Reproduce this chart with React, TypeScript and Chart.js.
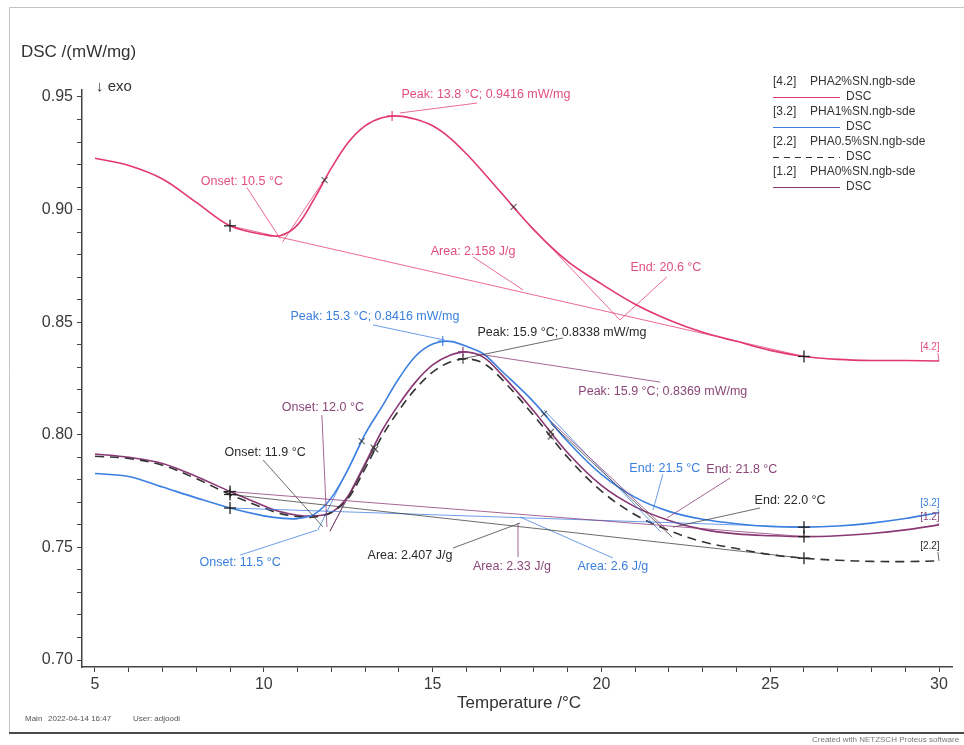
import React, { useEffect, useRef } from "react";
import { Chart, registerables } from "chart.js";

Chart.register(...registerables);

const FONT = '"Liberation Sans", Arial, Helvetica, sans-serif';

// ---------------- data ----------------
const TEMPERATURE = [
  5, 6, 7, 8, 9, 10, 10.5, 11, 11.5, 12, 12.5, 13, 13.5, 14, 14.5, 15, 15.5, 16, 16.5, 17,
  18, 19, 20, 21, 22, 23, 24, 25, 26, 27, 28, 29, 30,
];
// [4.2] PHA2%SN
const DSC_PHA2 = [
  0.9228, 0.9196, 0.9136, 0.9032, 0.8928, 0.8889, 0.8885, 0.8932, 0.905, 0.9184, 0.9298, 0.9372,
  0.9408, 0.9415, 0.9401, 0.9372, 0.932, 0.9248, 0.9166, 0.908, 0.891, 0.877, 0.867, 0.858,
  0.851, 0.8455, 0.8415, 0.8375, 0.8348, 0.8335, 0.833, 0.833, 0.8328,
];
// [3.2] PHA1%SN
const DSC_PHA1 = [
  0.7828, 0.7815, 0.7768, 0.772, 0.7675, 0.764, 0.763, 0.7628, 0.7648, 0.772, 0.7848, 0.8003,
  0.8125, 0.825, 0.835, 0.8403, 0.8415, 0.8393, 0.836, 0.829, 0.8145, 0.797, 0.7824, 0.7722,
  0.766, 0.7625, 0.7605, 0.7593, 0.759, 0.7595, 0.7608, 0.7628, 0.7655,
];
// [2.2] PHA0.5%SN
const DSC_PHA05 = [
  0.7905, 0.7895, 0.7865, 0.7805, 0.7735, 0.7675, 0.765, 0.7637, 0.7635, 0.7655, 0.7718, 0.785,
  0.7993, 0.8108, 0.8205, 0.8278, 0.8322, 0.8337, 0.8318, 0.8255, 0.8085, 0.79, 0.775, 0.7645,
  0.7575, 0.7525, 0.7495, 0.7468, 0.7452, 0.7443, 0.7438, 0.7437, 0.744,
];
// [1.2] PHA0%SN
const DSC_PHA0 = [
  0.7915, 0.79, 0.7873, 0.7815, 0.7748, 0.7685, 0.7658, 0.7643, 0.764, 0.7655, 0.7728, 0.7868,
  0.8018, 0.8135, 0.8235, 0.831, 0.8352, 0.8368, 0.8345, 0.8275, 0.8105, 0.792, 0.7775, 0.768,
  0.762, 0.758, 0.756, 0.7552, 0.7548, 0.7552, 0.7562, 0.7578, 0.76,
];

const SERIES_VALUES = [DSC_PHA2, DSC_PHA1, DSC_PHA05, DSC_PHA0];
const SERIES_TAGS = ["[4.2]", "[3.2]", "[2.2]", "[1.2]"];
const SERIES_FILES = ["PHA2%SN.ngb-sde", "PHA1%SN.ngb-sde", "PHA0.5%SN.ngb-sde", "PHA0%SN.ngb-sde"];
const SIGNAL_NAME = "DSC";

const PEAK_TEMP = [13.8, 15.3, 15.9, 15.9];
const PEAK_VALUE = [0.9416, 0.8416, 0.8338, 0.8369];
const ONSET_TEMP = [10.5, 11.5, 11.9, 12.0];
const END_TEMP = [20.6, 21.5, 22.0, 21.8];
const AREA_JG = [2.158, 2.6, 2.407, 2.33];
const BASELINE_TEMPS = [9, 26];

const X_MAJOR_TICKS = [5, 10, 15, 20, 25, 30];
const Y_MAJOR_TICKS = [0.7, 0.75, 0.8, 0.85, 0.9, 0.95];

const Y_TITLE = "DSC /(mW/mg)";
const EXO_TEXT = "\u2193 exo";
const X_TITLE = "Temperature /\u00B0C";
const FOOTER_LEFT = ["Main", "2022-04-14 16:47", "User: adjoodi"];
const FOOTER_RIGHT = "Created with NETZSCH Proteus software";

// ---------------- styles & annotation layout (data space anchors) ----------------
const STYLES = [
  { color: "#e2386d", text: "#e0507d", guide: "rgba(226,60,110,0.85)", dash: [] as number[] },
  { color: "#3b7fe0", text: "#3a7fdc", guide: "rgba(59,127,224,0.85)", dash: [] as number[] },
  { color: "#333333", text: "#2a2a2a", guide: "rgba(50,50,50,0.8)", dash: [9, 6] },
  { color: "#8a3775", text: "#8a4678", guide: "rgba(138,55,117,0.85)", dash: [] as number[] },
];

type Seg = [number, number, number, number];
const LAYOUT: {
  peak: [number, number];
  onset: [number, number];
  end: [number, number];
  area: [number, number];
  tag: [number, number];
  inflections: number[];
  guides: Seg[];
}[] = [
  {
    peak: [16.58, 0.9509],
    onset: [9.35, 0.9123],
    end: [21.91, 0.8741],
    area: [16.2, 0.8812],
    tag: [29.73, 0.839],
    inflections: [11.8, 17.4],
    guides: [
      [10.55, 0.8855, 11.85, 0.9145],
      [9.5, 0.9098, 10.48, 0.8872],
      [14.03, 0.9429, 16.32, 0.9473],
      [16.2, 0.879, 17.68, 0.8643],
      [17.4, 0.9007, 20.55, 0.851],
      [21.94, 0.8701, 20.55, 0.851],
    ],
  },
  {
    peak: [13.29, 0.8523],
    onset: [9.3, 0.7435],
    end: [21.88, 0.7848],
    area: [20.34, 0.7413],
    tag: [29.73, 0.7697],
    inflections: [12.9, 18.3],
    guides: [
      [11.6, 0.7577, 12.9, 0.797],
      [9.3, 0.7466, 11.58, 0.7577],
      [13.23, 0.8488, 15.37, 0.842],
      [18.3, 0.811, 21.75, 0.757],
      [21.82, 0.7825, 21.53, 0.7666],
      [20.34, 0.7453, 17.59, 0.7635],
    ],
  },
  {
    peak: [18.83, 0.8452],
    onset: [10.04, 0.7919],
    end: [25.59, 0.771],
    area: [14.33, 0.7466],
    tag: [29.73, 0.7506],
    inflections: [13.3, 18.5],
    guides: [
      [11.96, 0.7572, 13.3, 0.795],
      [9.98, 0.7888, 11.75, 0.7591],
      [15.9, 0.8338, 18.86, 0.843],
      [18.5, 0.805, 22.1, 0.7545],
      [24.7, 0.7675, 22.12, 0.759],
      [15.6, 0.7497, 17.59, 0.7608],
    ],
  },
  {
    peak: [21.82, 0.8194],
    onset: [11.75, 0.8123],
    end: [24.16, 0.7844],
    area: [17.35, 0.7413],
    tag: [29.73, 0.7635],
    inflections: [13.25, 18.5],
    guides: [
      [11.96, 0.7572, 13.24, 0.7947],
      [11.72, 0.8088, 11.87, 0.759],
      [15.9, 0.8369, 21.74, 0.8234],
      [18.5, 0.806, 21.95, 0.7577],
      [23.81, 0.7808, 21.94, 0.763],
      [17.53, 0.7457, 17.53, 0.7608],
    ],
  },
];

const X_MIN = 4.615;
const X_MAX = 30.385;
const Y_MIN = 0.6969;
const Y_MAX = 0.9531;

function valueAt(vals: number[], t: number) {
  for (let i = 0; i < TEMPERATURE.length - 1; i++) {
    const a = TEMPERATURE[i];
    const b = TEMPERATURE[i + 1];
    if (t >= a && t <= b) return vals[i] + ((vals[i + 1] - vals[i]) * (t - a)) / (b - a);
  }
  return vals[vals.length - 1];
}

function minorTicks(majors: number[], step: number) {
  const out: number[] = [];
  const lo = majors[0];
  const hi = majors[majors.length - 1];
  const n = Math.round((hi - lo) / step);
  for (let i = 0; i <= n; i++) out.push(Math.round((lo + i * step) * 1000) / 1000);
  return out;
}

const overlayPlugin = {
  id: "dscOverlay",
  beforeDraw(chart: any) {
    const { ctx, width, height } = chart;
    ctx.save();
    ctx.fillStyle = "#ffffff";
    ctx.fillRect(0, 0, width, height);
    ctx.restore();
  },
  afterDatasetsDraw(chart: any) {
    const { ctx } = chart;
    const xs = chart.scales.x;
    const ys = chart.scales.y;
    const px = (v: number) => xs.getPixelForValue(v);
    const py = (v: number) => ys.getPixelForValue(v);
    const line = (x1: number, y1: number, x2: number, y2: number) => {
      ctx.beginPath();
      ctx.moveTo(x1, y1);
      ctx.lineTo(x2, y2);
      ctx.stroke();
    };
    const plus = (x: number, y: number, r: number) => {
      line(x - r, y, x + r, y);
      line(x, y - r, x, y + r);
    };
    const xmark = (x: number, y: number, r: number) => {
      line(x - r, y - r, x + r, y + r);
      line(x - r, y + r, x + r, y - r);
    };
    ctx.save();
    SERIES_VALUES.forEach((vals, i) => {
      const st = STYLES[i];
      const lay = LAYOUT[i];
      ctx.setLineDash([]);
      ctx.strokeStyle = st.guide;
      ctx.lineWidth = 0.9;
      const b0 = BASELINE_TEMPS[0];
      const b1 = BASELINE_TEMPS[1];
      line(px(b0), py(valueAt(vals, b0)), px(b1), py(valueAt(vals, b1)));
      lay.guides.forEach((g) => line(px(g[0]), py(g[1]), px(g[2]), py(g[3])));
      // tag leader to curve end
      line(px(lay.tag[0]) + 8, py(lay.tag[1]) + 6, px(30), py(valueAt(vals, 30)));

      ctx.strokeStyle = "#222";
      ctx.lineWidth = 1.3;
      BASELINE_TEMPS.forEach((t) => plus(px(t), py(valueAt(vals, t)), 6));
      ctx.strokeStyle = st.color;
      ctx.lineWidth = 1.1;
      plus(px(PEAK_TEMP[i]), py(PEAK_VALUE[i]), 5);
      ctx.strokeStyle = "rgba(60,60,60,0.8)";
      lay.inflections.forEach((t) => xmark(px(t), py(valueAt(vals, t)), 3));
    });

    ctx.textAlign = "center";
    ctx.textBaseline = "middle";
    SERIES_VALUES.forEach((_vals, i) => {
      const st = STYLES[i];
      const lay = LAYOUT[i];
      ctx.fillStyle = st.text;
      ctx.font = `12.5px ${FONT}`;
      ctx.fillText(
        `Peak: ${PEAK_TEMP[i].toFixed(1)} \u00B0C; ${PEAK_VALUE[i].toFixed(4)} mW/mg`,
        px(lay.peak[0]),
        py(lay.peak[1])
      );
      ctx.fillText(`Onset: ${ONSET_TEMP[i].toFixed(1)} \u00B0C`, px(lay.onset[0]), py(lay.onset[1]));
      ctx.fillText(`End: ${END_TEMP[i].toFixed(1)} \u00B0C`, px(lay.end[0]), py(lay.end[1]));
      ctx.fillText(`Area: ${String(AREA_JG[i])} J/g`, px(lay.area[0]), py(lay.area[1]));
      ctx.font = `10px ${FONT}`;
      ctx.fillText(SERIES_TAGS[i], px(lay.tag[0]), py(lay.tag[1]));
    });
    ctx.restore();
  },
  afterDraw(chart: any) {
    const { ctx, chartArea } = chart;
    ctx.save();
    // frame
    ctx.setLineDash([]);
    ctx.strokeStyle = "#c4c4c4";
    ctx.lineWidth = 1;
    ctx.beginPath();
    ctx.moveTo(9.5, 733);
    ctx.lineTo(9.5, 7.5);
    ctx.lineTo(964, 7.5);
    ctx.stroke();
    ctx.strokeStyle = "#4a4a4a";
    ctx.lineWidth = 2;
    ctx.beginPath();
    ctx.moveTo(9, 733);
    ctx.lineTo(964, 733);
    ctx.stroke();

    // titles
    ctx.fillStyle = "#333";
    ctx.textBaseline = "middle";
    ctx.textAlign = "left";
    ctx.font = `17px ${FONT}`;
    ctx.fillText(Y_TITLE, 21, 52);
    ctx.font = `15px ${FONT}`;
    ctx.fillText(EXO_TEXT, chartArea.left + 14, 87);
    ctx.textAlign = "center";
    ctx.font = `17px ${FONT}`;
    ctx.fillText(X_TITLE, 519, 703);

    // legend
    ctx.textAlign = "left";
    SERIES_TAGS.forEach((tag, i) => {
      const y0 = 82 + 30 * i;
      ctx.fillStyle = "#333";
      ctx.font = `12px ${FONT}`;
      ctx.fillText(tag, 773, y0);
      ctx.fillText(SERIES_FILES[i], 810, y0);
      ctx.fillText(SIGNAL_NAME, 846, y0 + 15);
      ctx.strokeStyle = STYLES[i].color;
      ctx.lineWidth = 1;
      ctx.setLineDash(STYLES[i].dash.length ? [6, 5] : []);
      ctx.beginPath();
      ctx.moveTo(773, y0 + 15.5);
      ctx.lineTo(840, y0 + 15.5);
      ctx.stroke();
    });
    ctx.setLineDash([]);

    // footer
    ctx.fillStyle = "#555";
    ctx.font = `8px ${FONT}`;
    ctx.fillText(FOOTER_LEFT[0], 25, 719);
    ctx.fillText(FOOTER_LEFT[1], 48, 719);
    ctx.fillText(FOOTER_LEFT[2], 133, 719);
    ctx.fillStyle = "#777";
    ctx.fillText(FOOTER_RIGHT, 812, 740);
    ctx.restore();
  },
};

export default function App() {
  const canvasRef = useRef<HTMLCanvasElement | null>(null);

  useEffect(() => {
    document.body.style.margin = "0";
    document.body.style.overflow = "hidden";
    const canvas = canvasRef.current;
    if (!canvas) return;

    const datasets = SERIES_VALUES.map((vals, i) => ({
      label: `${SERIES_TAGS[i]} ${SERIES_FILES[i]} ${SIGNAL_NAME}`,
      data: TEMPERATURE.map((t, k) => ({ x: t, y: vals[k] })),
      borderColor: STYLES[i].color,
      borderWidth: 1.6,
      borderDash: STYLES[i].dash,
      pointRadius: 0,
      fill: false,
      tension: 0.35,
    }));

    const xTicks = minorTicks(X_MAJOR_TICKS, 1);
    const yTicks = minorTicks(Y_MAJOR_TICKS, 0.01);

    const chart = new Chart(canvas, {
      type: "line",
      data: { datasets },
      options: {
        animation: false,
        responsive: false,
        maintainAspectRatio: false,
        devicePixelRatio: 1,
        layout: { padding: { top: 90, right: 12, left: 0, bottom: 0 } },
        plugins: {
          legend: { display: false },
          tooltip: { enabled: false },
        },
        scales: {
          x: {
            type: "linear",
            min: X_MIN,
            max: X_MAX,
            afterBuildTicks: (scale: any) => {
              scale.ticks = xTicks.map((v) => ({ value: v }));
            },
            afterFit: (scale: any) => {
              scale.height = 78;
            },
            ticks: {
              autoSkip: false,
              maxRotation: 0,
              padding: 3,
              color: "#3a3a3a",
              font: { family: FONT, size: 16 },
              callback: (v: any) => (X_MAJOR_TICKS.includes(Number(v)) ? String(v) : ""),
            },
            grid: { drawOnChartArea: false, tickLength: 5, color: "#444", lineWidth: 1 },
            border: { color: "#444", width: 1.5 },
          },
          y: {
            type: "linear",
            min: Y_MIN,
            max: Y_MAX,
            afterBuildTicks: (scale: any) => {
              scale.ticks = yTicks.map((v) => ({ value: v }));
            },
            afterFit: (scale: any) => {
              scale.width = 82;
            },
            ticks: {
              autoSkip: false,
              padding: 4,
              color: "#3a3a3a",
              font: { family: FONT, size: 16 },
              callback: (v: any) => {
                const n = Number(v);
                return Y_MAJOR_TICKS.some((m) => Math.abs(m - n) < 1e-6) ? n.toFixed(2) : "";
              },
            },
            grid: { drawOnChartArea: false, tickLength: 5, color: "#444", lineWidth: 1 },
            border: { color: "#444", width: 1.5 },
          },
        },
      },
      plugins: [overlayPlugin],
    } as any);

    return () => chart.destroy();
  }, []);

  return (
    <div style={{ width: 964, height: 745, background: "#fff" }}>
      <canvas ref={canvasRef} width={964} height={745} style={{ display: "block" }} />
    </div>
  );
}
